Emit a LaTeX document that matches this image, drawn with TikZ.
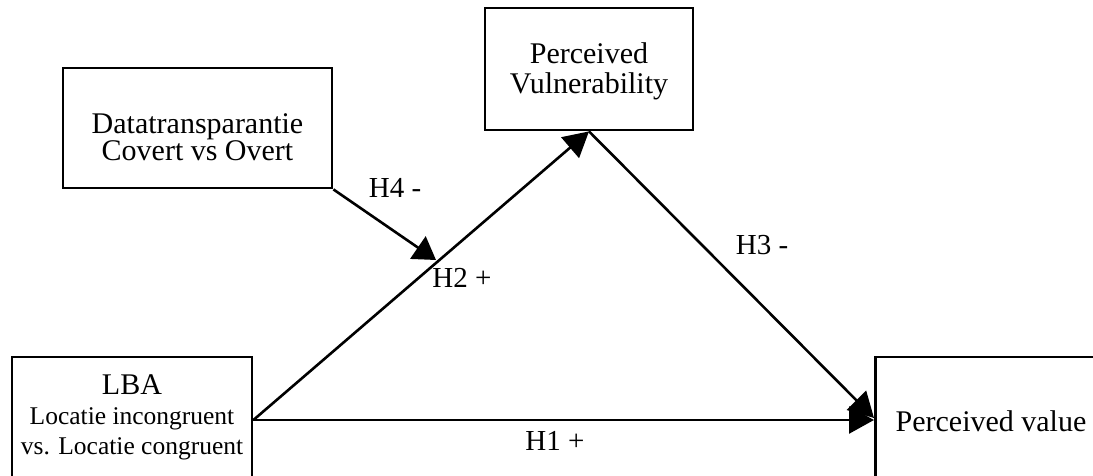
\documentclass[tikz,border=0pt]{standalone}
\usepackage{fontspec}
\setmainfont{Liberation Serif}
\usetikzlibrary{arrows.meta}
\begin{document}
\begin{tikzpicture}[x=1pt,y=-1pt,
  boxnode/.style={draw,line width=2.8pt,inner sep=0pt},
  conn/.style={line width=2.6pt,-{Triangle[length=25pt,width=27pt]}},
  lbl/.style={inner sep=0pt,font=\fontsize{29}{30}\selectfont}]
\useasboundingbox (0,0) rectangle (1093,476);
\clip (0,0) rectangle (1093,476);
% boxes
\node[boxnode,minimum width=269pt,minimum height=120pt] (dt) at (197.5,128) {};
\node[boxnode,minimum width=208pt,minimum height=122pt] (pv) at (589,69) {};
\node[boxnode,minimum width=240pt,minimum height=126pt] (lba) at (132,420) {};
\node[boxnode,minimum width=240pt,minimum height=126pt,anchor=west] (val) at (874,420) {};
% texts
\node[inner sep=0pt,align=center,font=\fontsize{30}{24}\selectfont] (dtt) at (197.5,137) {Datatransparantie\\Covert vs Overt};
\node[inner sep=0pt,align=center,font=\fontsize{30}{30}\selectfont] (pvt) at (589,71) {Perceived\\Vulnerability};
\node[inner sep=0pt,align=center,font=\fontsize{25.5}{30}\selectfont] (lbat) at (132,417) {{\fontsize{30}{30}\selectfont LBA}\\Locatie incongruent\\vs. Locatie congruent};
\node[inner sep=0pt,font=\fontsize{30}{30}\selectfont] (valt) at (991,421) {Perceived value};
% connector points
\coordinate (h4end) at (436,260);
\coordinate (valin) at (874,418);
% connectors
\draw[conn] (lba.east) -- (val.west);
\draw[conn] (lba.east) -- (pv.south);
\draw[conn] (pv.south) -- (valin);
\draw[conn,-{Triangle[length=22pt,width=27pt]}] (dt.south east) -- (h4end);
% labels
\node[lbl] (h4) at (395,188) {H4 -};
\node[lbl] (h2) at (462,278) {H2 +};
\node[lbl] (h3) at (762,245) {H3 -};
\node[lbl] (h1) at (555,441) {H1 +};
\end{tikzpicture}
\end{document}
